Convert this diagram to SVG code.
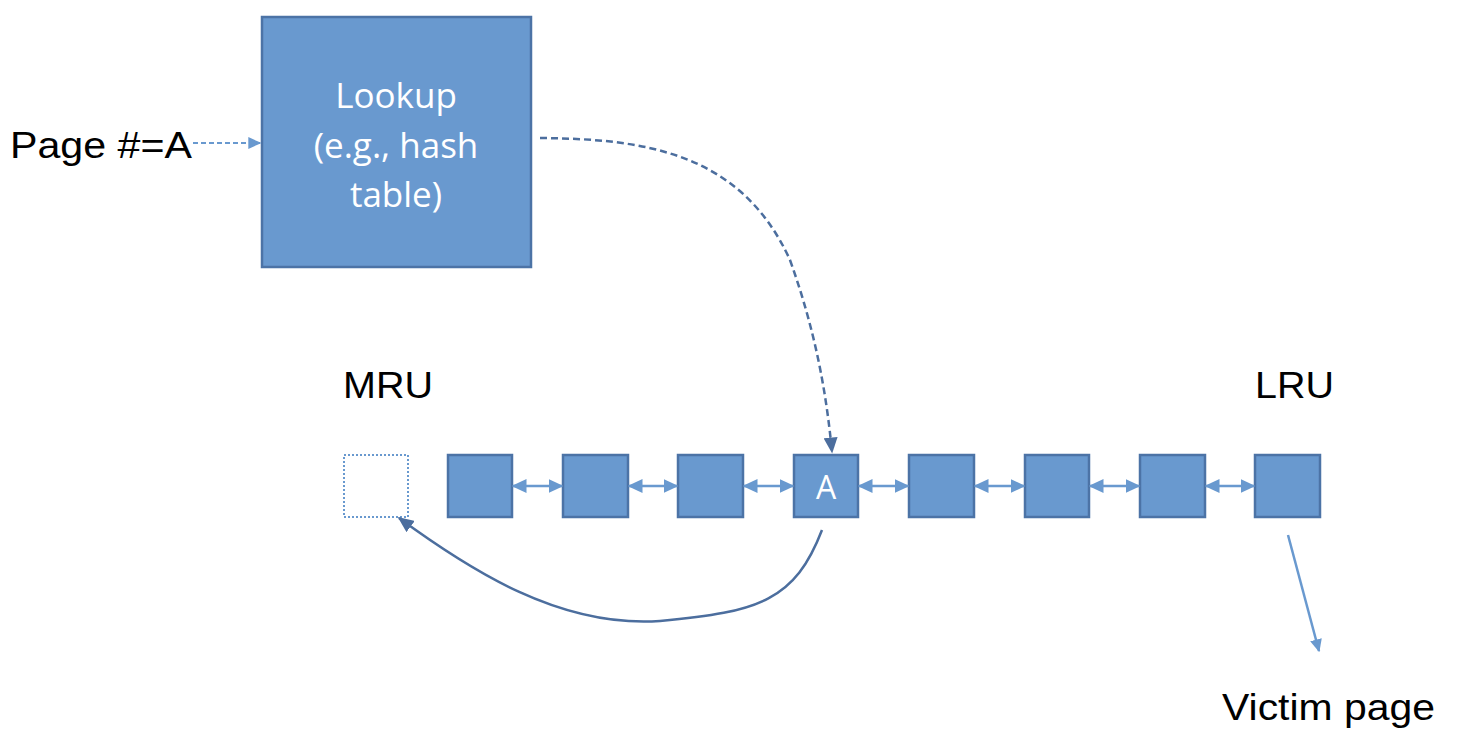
<svg xmlns="http://www.w3.org/2000/svg" width="1458" height="746" viewBox="0 0 1458 746">
<style>
.box{fill:#6999cf;stroke:#4c73a6;stroke-width:2.5}
.lbl{font-family:"Liberation Sans",Arial,sans-serif;font-size:37px;fill:#000}
.wt{font-family:"Open Sans","Liberation Sans",sans-serif;fill:#fff;text-anchor:middle}
.dbl{stroke:#6999cf;stroke-width:2.5;fill:none;marker-start:url(#ahL);marker-end:url(#ahL)}
</style>
<defs>
<marker id="ahL" viewBox="0 0 10 10" refX="9" refY="5" markerWidth="15" markerHeight="14" orient="auto-start-reverse" markerUnits="userSpaceOnUse" preserveAspectRatio="none"><path d="M0,0 L10,5 L0,10 z" fill="#6999cf"/></marker>
<marker id="ahS" viewBox="0 0 10 10" refX="9" refY="5" markerWidth="13" markerHeight="12" orient="auto" markerUnits="userSpaceOnUse" preserveAspectRatio="none"><path d="M0,0 L10,5 L0,10 z" fill="#6999cf"/></marker>
<marker id="ahD" viewBox="0 0 10 10" refX="9" refY="5" markerWidth="16" markerHeight="14" orient="auto" markerUnits="userSpaceOnUse" preserveAspectRatio="none"><path d="M0,0 L10,5 L0,10 z" fill="#4c6e9e"/></marker>
</defs>
<g id="page-label"><text class="lbl" x="10" y="158" textLength="182" lengthAdjust="spacingAndGlyphs">Page #=A</text></g>
<g id="lookup"><rect class="box" x="262" y="17" width="269" height="250"/>
<text class="wt" font-size="35" x="396" y="108">Lookup</text>
<text class="wt" font-size="35" x="396" y="158">(e.g., hash</text>
<text class="wt" font-size="35" x="396" y="207">table)</text></g>
<g id="mru-label"><text class="lbl" x="343" y="398" textLength="90" lengthAdjust="spacingAndGlyphs">MRU</text></g>
<g id="lru-label"><text class="lbl" x="1255" y="398" textLength="79" lengthAdjust="spacingAndGlyphs">LRU</text></g>
<g id="victim-label"><text class="lbl" x="1222" y="720" textLength="213" lengthAdjust="spacingAndGlyphs">Victim page</text></g>
<g id="slot-empty"><rect x="344" y="455" width="64" height="62" fill="none" stroke="#6999cf" stroke-width="2" stroke-dasharray="2,2"/></g>
<g id="n1"><rect class="box" x="448" y="455" width="64" height="62"/></g>
<g id="n2"><rect class="box" x="563" y="455" width="65" height="62"/></g>
<g id="n3"><rect class="box" x="678" y="455" width="65" height="62"/></g>
<g id="n4"><rect class="box" x="794" y="455" width="64" height="62"/><text class="wt" font-size="32" x="826" y="499">A</text></g>
<g id="n5"><rect class="box" x="909" y="455" width="65" height="62"/></g>
<g id="n6"><rect class="box" x="1025" y="455" width="64" height="62"/></g>
<g id="n7"><rect class="box" x="1140" y="455" width="65" height="62"/></g>
<g id="n8"><rect class="box" x="1255" y="455" width="65" height="62"/></g>
<g id="connectors">
<line x1="193" y1="143" x2="260" y2="143" stroke="#6999cf" stroke-width="2" stroke-dasharray="5,3" marker-end="url(#ahS)"/>
<path d="M540,138 C640,139 740,150 790,260 C815,330 826,390 832,452" fill="none" stroke="#4c6e9e" stroke-width="2.5" stroke-dasharray="7,4" marker-end="url(#ahD)"/>
<path d="M822,530 C795,600 760,612 660,621 C560,628 470,570 399,518" fill="none" stroke="#4c6e9e" stroke-width="2.5" marker-end="url(#ahD)"/>
<line x1="1288" y1="535" x2="1319" y2="651" stroke="#6999cf" stroke-width="2.5" marker-end="url(#ahS)"/>
<line class="dbl" x1="513" y1="486" x2="562" y2="486"/>
<line class="dbl" x1="629" y1="486" x2="677" y2="486"/>
<line class="dbl" x1="744" y1="486" x2="793" y2="486"/>
<line class="dbl" x1="859" y1="486" x2="908" y2="486"/>
<line class="dbl" x1="975" y1="486" x2="1024" y2="486"/>
<line class="dbl" x1="1090" y1="486" x2="1139" y2="486"/>
<line class="dbl" x1="1206" y1="486" x2="1254" y2="486"/>
</g>
</svg>
